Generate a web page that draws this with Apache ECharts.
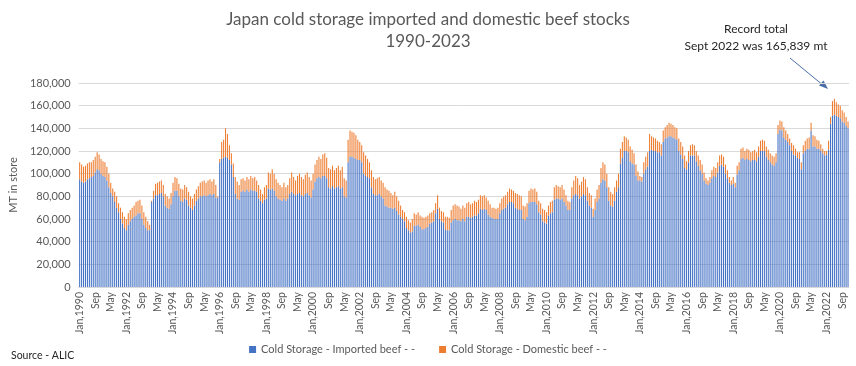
<!DOCTYPE html>
<html>
<head>
<meta charset="utf-8">
<script src="https://cdn.jsdelivr.net/npm/echarts@6/dist/echarts.min.js"></script>
<style>
html,body{margin:0;padding:0;background:#fff;}
#chart{width:856px;height:366px;}
</style>
</head>
<body>
<div id="chart"></div>
<script>
// Monthly categories Jan 1990 .. Dec 2022
const monthNames = ['Jan','Feb','Mar','Apr','May','Jun','Jul','Aug','Sep','Oct','Nov','Dec'];
const years = [1990,1991,1992,1993,1994,1995,1996,1997,1998,1999,2000,2001,2002,2003,2004,2005,2006,2007,2008,2009,2010,2011,2012,2013,2014,2015,2016,2017,2018,2019,2020,2021,2022];
const yTicks = [0,20000,40000,60000,80000,100000,120000,140000,160000,180000];

// Cold Storage - Imported beef (MT), one row per year
const imported = [
 95000,93000,92000,93000,95000,96000,97000,98000,101000,104000,103000,100000,
 98000,97000,94000,88000,83000,80000,75000,70000,66000,60000,56000,52000,
 50000,55000,58000,60000,62000,63000,65000,65000,60000,55000,52000,50000,
 50000,75000,78000,81000,81000,82000,83000,80000,72000,70000,69000,73000,
 80000,85000,85000,80000,76000,75000,78000,77000,72000,70000,68000,72000,
 76000,78000,80000,80000,81000,80000,81000,82000,81000,82000,79000,79000,
 110000,113000,114000,115000,114000,112000,108000,97000,82000,78000,77000,84000,
 85000,84000,86000,84000,86000,85000,85000,84000,78000,76000,74000,77000,
 78000,87000,86000,87000,85000,80000,78000,77000,76000,78000,76000,78000,
 82000,84000,82000,81000,82000,83000,81000,80000,82000,83000,81000,79000,
 86000,93000,96000,97000,96000,98000,98000,96000,88000,87000,89000,87000,
 88000,89000,87000,88000,80000,79000,110000,115000,115000,114000,113000,112000,
 112000,110000,100000,98000,97000,96000,88000,82000,81000,81000,82000,80000,
 78000,72000,71000,70000,70000,69000,70000,67000,64000,62000,60000,58000,
 52000,50000,48000,49000,54000,54000,55000,53000,51000,51000,52000,53000,
 56000,57000,58000,65000,69000,60000,58000,57000,51000,50000,50000,57000,
 59000,60000,59000,59000,58000,60000,58000,62000,62000,61000,62000,63000,
 63000,65000,69000,68000,69000,68000,64000,62000,61000,60000,60000,60000,
 65000,68000,69000,70000,73000,75000,75000,74000,70000,69000,68000,68000,
 60000,59000,62000,74000,75000,75000,75000,73000,66000,64000,58000,57000,
 56000,63000,65000,66000,77000,78000,78000,77000,78000,75000,72000,68000,
 68000,78000,81000,82000,81000,78000,80000,82000,81000,76000,72000,70000,
 62000,68000,75000,78000,92000,95000,94000,88000,76000,72000,71000,76000,
 84000,88000,109000,114000,120000,120000,119000,111000,109000,108000,98000,94000,
 94000,93000,100000,104000,106000,120000,121000,120000,120000,119000,119000,116000,
 128000,131000,132000,133000,133000,132000,131000,130000,120000,117000,113000,105000,
 104000,110000,116000,116000,116000,111000,107000,103000,100000,94000,91000,90000,
 92000,96000,98000,97000,101000,107000,108000,106000,100000,96000,92000,90000,
 91000,88000,99000,103000,113000,114000,112000,113000,112000,111000,112000,112000,
 111000,115000,120000,120000,120000,115000,112000,110000,108000,107000,110000,135000,
 139000,138000,132000,130000,128000,125000,120000,117000,116000,114000,113000,104000,
 118000,120000,122000,122000,138000,124000,124000,122000,122000,120000,118000,116000,
 117000,121000,144000,151000,152000,151000,150000,149000,146000,145000,142000,140000
];

// Cold Storage - Domestic beef (MT), one row per year
const domestic = [
 15000,15000,14000,14000,14000,14000,13000,14000,14000,15000,14000,13000,
 13000,13000,12000,12000,9000,7000,9000,10000,8000,10000,10000,10000,
 10000,10000,10000,10000,10000,12000,11000,12000,12000,11000,10000,8000,
 5000,1000,7000,10000,11000,11000,11000,10000,10000,10000,9000,10000,
 12000,12000,11000,11000,11000,11000,12000,11000,12000,10000,10000,10000,
 10000,11000,12000,13000,13000,12000,13000,13000,12000,13000,11000,1000,
 3000,15000,16000,25000,21000,13000,10000,12000,15000,15000,13000,11000,
 11000,10000,11000,11000,12000,11000,12000,10000,12000,10000,8000,11000,
 12000,14000,14000,17000,15000,15000,14000,13000,12000,14000,12000,12000,
 14000,17000,15000,13000,16000,17000,16000,15000,17000,18000,16000,15000,
 14000,15000,16000,18000,17000,19000,20000,18000,17000,17000,18000,16000,
 17000,18000,16000,18000,16000,15000,20000,23000,22000,22000,21000,18000,
 16000,15000,19000,18000,16000,14000,15000,15000,14000,15000,15000,14000,
 14000,16000,15000,15000,13000,12000,14000,13000,12000,10000,8000,8000,
 10000,9000,9000,11000,11000,10000,11000,10000,11000,10000,10000,10000,
 9000,9000,10000,9000,12000,10000,9000,9000,11000,12000,11000,11000,
 13000,13000,13000,12000,11000,12000,12000,12000,13000,12000,12000,13000,
 12000,12000,12000,12000,12000,11000,12000,11000,9000,10000,9000,10000,
 9000,10000,11000,11000,11000,12000,11000,11000,13000,13000,13000,12000,
 12000,12000,12000,11000,12000,11000,12000,11000,10000,10000,11000,11000,
 10000,9000,10000,10000,11000,12000,11000,11000,12000,11000,9000,8000,
 7000,10000,13000,16000,15000,12000,13000,15000,14000,12000,11000,11000,
 7000,10000,11000,12000,13000,15000,14000,12000,12000,12000,11000,12000,
 10000,12000,13000,14000,13000,12000,11000,13000,12000,10000,10000,8000,
 4000,4000,10000,11000,13000,15000,12000,12000,11000,10000,9000,10000,
 10000,10000,11000,12000,11000,11000,10000,10000,11000,11000,11000,11000,
 7000,10000,9000,10000,9000,9000,9000,9000,8000,7000,5000,4000,
 5000,7000,8000,8000,9000,9000,9000,9000,8000,7000,5000,4000,
 6000,4000,8000,7000,9000,9000,8000,9000,9000,8000,8000,9000,
 8000,9000,9000,10000,9000,9000,9000,8000,8000,8000,8000,8000,
 8000,8000,9000,8000,7000,6000,7000,8000,6000,5000,6000,6000,
 7000,9000,9000,10000,7000,10000,9000,8000,7000,6000,4000,4000,
 3000,8000,6000,13000,14000,12000,11000,11000,10000,9000,8000,6000
];

const categories = [];
years.forEach(y => monthNames.forEach(m => categories.push(m + ',' + y)));

const FONT = 'Lato, "Noto Sans", sans-serif';
const GREY = '#595959';

const chart = echarts.init(document.getElementById('chart'), null, {renderer: 'canvas'});
chart.setOption({
  animation: false,
  backgroundColor: '#ffffff',
  title: {
    text: 'Japan cold storage imported and domestic beef stocks\n1990-2023',
    left: 'center',
    top: 4,
    textStyle: {fontFamily: FONT, fontSize: 17, fontWeight: 'normal', color: GREY, lineHeight: 22}
  },
  legend: {
    bottom: 6,
    left: 'center',
    itemWidth: 7,
    itemHeight: 7,
    itemGap: 24,
    icon: 'rect',
    textStyle: {fontFamily: FONT, fontSize: 11, color: GREY},
    data: ['Cold Storage - Imported beef - -', 'Cold Storage - Domestic beef - -']
  },
  grid: {left: 73, right: 7, top: 83, bottom: 79, containLabel: false},
  xAxis: {
    type: 'category',
    data: categories,
    axisLine: {show: true, lineStyle: {color: '#d9d9d9'}},
    axisTick: {show: false},
    axisLabel: {
      interval: 7,
      rotate: 90,
      fontFamily: FONT,
      fontSize: 10.5,
      color: GREY,
      margin: 5,
      formatter: v => v.startsWith('Jan') ? v : v.split(',')[0]
    }
  },
  yAxis: {
    type: 'value',
    min: yTicks[0],
    max: yTicks[yTicks.length - 1],
    interval: yTicks[1] - yTicks[0],
    name: 'MT in store',
    nameLocation: 'middle',
    nameRotate: 90,
    nameGap: 55,
    nameTextStyle: {fontFamily: FONT, fontSize: 11, color: GREY},
    axisLine: {show: false},
    axisTick: {show: false},
    splitLine: {lineStyle: {color: '#d9d9d9', width: 1}},
    axisLabel: {
      fontFamily: FONT, fontSize: 11, color: GREY, margin: 8,
      formatter: v => v.toLocaleString('en-US')
    }
  },
  series: [
    {
      name: 'Cold Storage - Imported beef - -',
      type: 'bar',
      stack: 'total',
      data: imported,
      barCategoryGap: '45%',
      itemStyle: {color: '#4472C4'}
    },
    {
      name: 'Cold Storage - Domestic beef - -',
      type: 'bar',
      stack: 'total',
      data: domestic,
      barCategoryGap: '45%',
      itemStyle: {color: '#ED7D31'}
    }
  ],
  graphic: [
    {type: 'text', left: 11, top: 350, style: {text: 'Source - ALIC', font: '10.5px ' + FONT, fill: '#262626'}},
    {type: 'text', x: 756, y: 29, style: {text: 'Record total', font: '12px ' + FONT, fill: '#262626', align: 'center', verticalAlign: 'middle'}},
    {type: 'text', x: 756, y: 46, style: {text: 'Sept 2022 was 165,839 mt', font: '12px ' + FONT, fill: '#262626', align: 'center', verticalAlign: 'middle'}},
    {type: 'line', shape: {x1: 790, y1: 58, x2: 824, y2: 86}, style: {stroke: '#4a6da8', lineWidth: 1}},
    {type: 'polygon', shape: {points: [[828, 89], [819, 85.5], [823.5, 80.5]]}, style: {fill: '#4a6da8'}}
  ]
});
</script>
</body>
</html>
